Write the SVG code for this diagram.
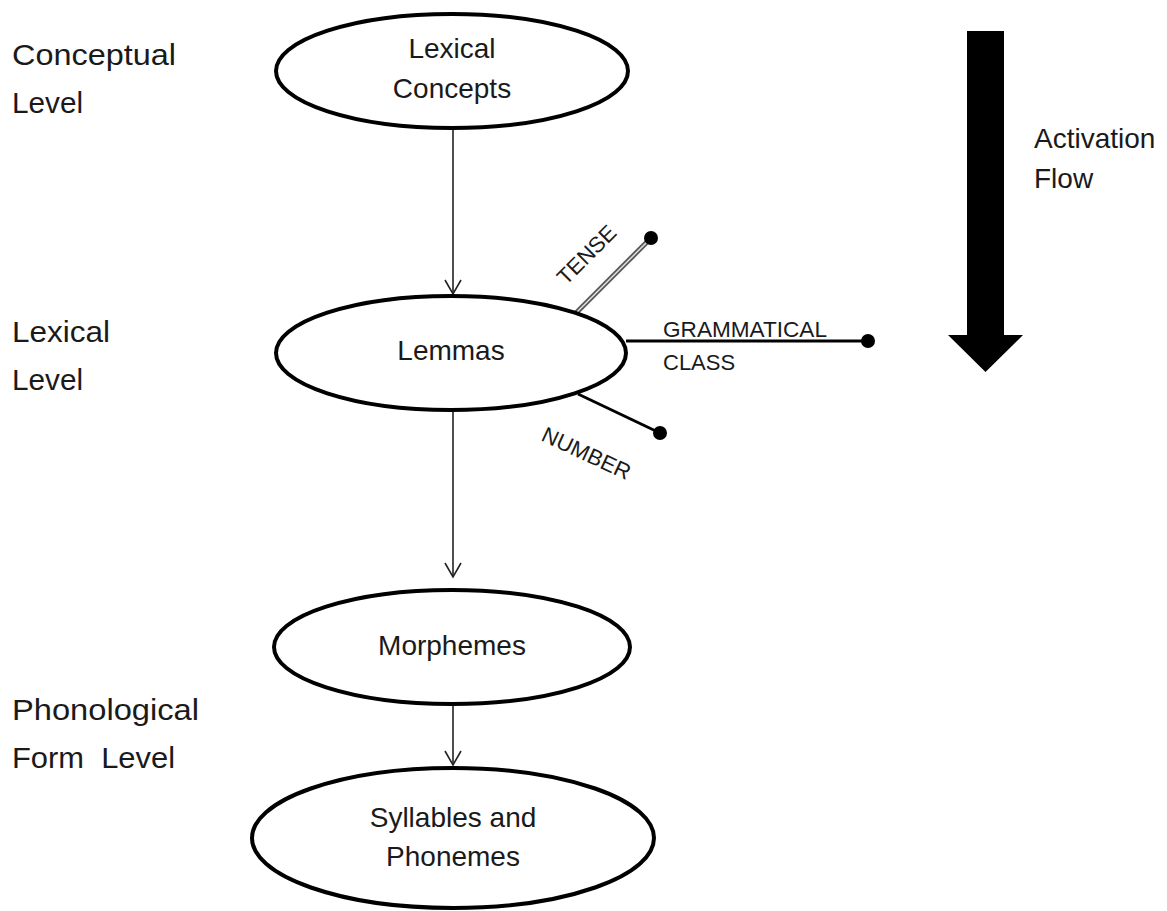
<svg xmlns="http://www.w3.org/2000/svg" width="1167" height="911" viewBox="0 0 1167 911">
<style>
.node{fill:#fff;stroke:#000;stroke-width:4}
.t{font-family:"Liberation Sans",Arial,sans-serif;fill:#1a1a1a}
.lvl{font-size:30px}
.nt{font-size:28px;text-anchor:middle}
.ft{font-size:22px}
.conn{stroke:#222;stroke-width:1.6;fill:none}
.feat{stroke:#000;stroke-width:3}
</style>
<defs>
<marker id="v" viewBox="0 0 20 20" refX="18" refY="10" markerWidth="20" markerHeight="20" markerUnits="userSpaceOnUse" orient="auto">
<path d="M4 2 L18 10 L4 18" fill="none" stroke="#222" stroke-width="1.6"/>
</marker>
</defs>
<rect width="1167" height="911" fill="#fff"/>
<g id="level-labels" class="t lvl">
<text x="12" y="65" textLength="164" lengthAdjust="spacingAndGlyphs">Conceptual</text>
<text x="12" y="113" textLength="71" lengthAdjust="spacingAndGlyphs">Level</text>
<text x="12" y="342" textLength="98" lengthAdjust="spacingAndGlyphs">Lexical</text>
<text x="12" y="390" textLength="71" lengthAdjust="spacingAndGlyphs">Level</text>
<text x="12" y="720" textLength="187" lengthAdjust="spacingAndGlyphs">Phonological</text>
<text x="12" y="768" xml:space="preserve" textLength="163" lengthAdjust="spacingAndGlyphs">Form  Level</text>
</g>
<g id="connectors">
<line class="conn" x1="453" y1="128" x2="453" y2="294" marker-end="url(#v)"/>
<line class="conn" x1="453" y1="410" x2="453" y2="577" marker-end="url(#v)"/>
<line class="conn" x1="453" y1="705" x2="453" y2="765" marker-end="url(#v)"/>
</g>
<g id="features">
<line x1="576" y1="313" x2="651" y2="238" stroke="#555" stroke-width="5"/>
<line x1="576" y1="313" x2="651" y2="238" stroke="#ddd" stroke-width="1.5"/>
<circle cx="651" cy="238" r="7" fill="#000"/>
<line class="feat" x1="626" y1="341" x2="868" y2="341"/>
<circle cx="868" cy="341" r="7" fill="#000"/>
<line class="feat" x1="578" y1="394" x2="660" y2="433"/>
<circle cx="660" cy="433" r="7" fill="#000"/>
<text class="t ft" transform="translate(566,286) rotate(-45)">TENSE</text>
<text class="t ft" x="663" y="337" textLength="164" lengthAdjust="spacingAndGlyphs">GRAMMATICAL</text>
<text class="t ft" x="663" y="370">CLASS</text>
<text class="t ft" transform="translate(540,440) rotate(25)">NUMBER</text>
</g>
<g id="node-lexical-concepts">
<ellipse class="node" cx="452" cy="71" rx="176" ry="57"/>
<text class="t nt" x="452" y="58">Lexical</text>
<text class="t nt" x="452" y="98">Concepts</text>
</g>
<g id="node-lemmas">
<ellipse class="node" cx="451" cy="353" rx="175" ry="57"/>
<text class="t nt" x="451" y="360">Lemmas</text>
</g>
<g id="node-morphemes">
<ellipse class="node" cx="452" cy="647" rx="178" ry="57"/>
<text class="t nt" x="452" y="655">Morphemes</text>
</g>
<g id="node-syllables">
<ellipse class="node" cx="453" cy="838" rx="201" ry="70"/>
<text class="t nt" x="453" y="827">Syllables and</text>
<text class="t nt" x="453" y="866">Phonemes</text>
</g>
<g id="activation-flow">
<polygon points="967,31 1004,31 1004,335 1023,335 985.5,372 948,335 967,335" fill="#000"/>
<text class="t" font-size="28" x="1034" y="148">Activation</text>
<text class="t" font-size="28" x="1034" y="188">Flow</text>
</g>
</svg>
